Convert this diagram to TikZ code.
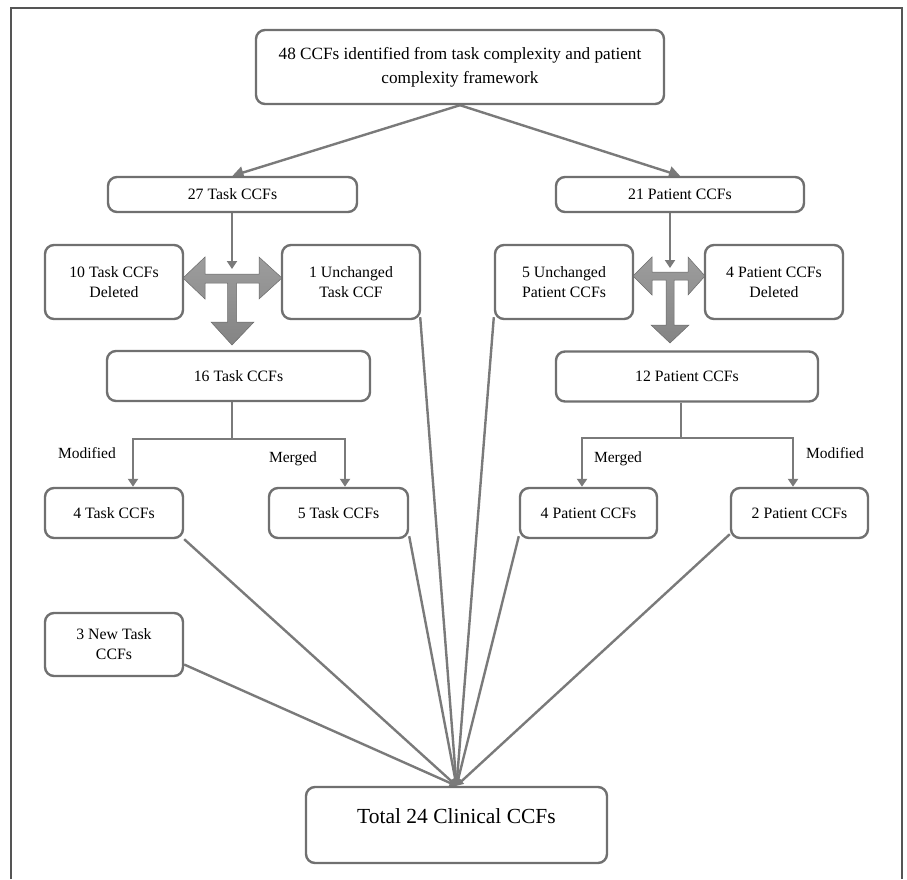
\documentclass[tikz,border=0pt]{standalone}
\usepackage{fontspec}
\setmainfont{Liberation Serif}
\usetikzlibrary{arrows.meta,calc}
\definecolor{boxgray}{RGB}{112,112,112}
\definecolor{linegray}{RGB}{122,122,122}
\definecolor{framegray}{RGB}{85,85,85}
\definecolor{bigarrow}{RGB}{132,132,132}
\pgfdeclarelayer{bg}
\pgfsetlayers{bg,main}
\tikzset{
  box/.style={draw=boxgray, line width=2.4pt, rounded corners=9pt, fill=white,
    align=center, inner sep=0pt, font=\fontsize{15.8}{20}\selectfont},
  conn/.style={draw=linegray, line width=2.4pt},
  arr/.style={conn, -{Triangle[length=8pt,width=10pt]}},
  bigarr/.style={conn, -{Triangle[length=11pt,width=12pt]}},
  cvg/.style={conn, -{Triangle[length=7pt,width=7pt]}},
  lbl/.style={font=\fontsize{15.5}{19}\selectfont, inner sep=0pt},
  blockarrow/.style={top color=bigarrow!80, bottom color=bigarrow, draw=bigarrow!80!black, line width=0.5pt, line join=miter}
}
\begin{document}
\begin{tikzpicture}[x=1pt,y=-1pt]
\useasboundingbox (0,0) rectangle (907,879);
\draw[framegray, line width=1.8pt] (11,879) -- (11,8) -- (902,8) -- (902,879);

% nodes
\node[box, minimum width=408, minimum height=74, font=\fontsize{17.2}{24}\selectfont] (top) at (460,67)
  {48 CCFs identified from task complexity and patient\\complexity framework};
\node[box, minimum width=249, minimum height=35] (t27) at (232.5,194.5) {27 Task CCFs};
\node[box, minimum width=248, minimum height=35] (p21) at (680,194.5) {21 Patient CCFs};
\node[box, minimum width=138, minimum height=74] (d10) at (114,282) {10 Task CCFs\\Deleted};
\node[box, minimum width=138, minimum height=74] (u1) at (351,282) {1 Unchanged\\Task CCF};
\node[box, minimum width=138, minimum height=74] (u5) at (564,282) {5 Unchanged\\Patient CCFs};
\node[box, minimum width=138, minimum height=74] (d4) at (774,282) {4 Patient CCFs\\Deleted};
\node[box, minimum width=263, minimum height=50] (t16) at (238.5,376) {16 Task CCFs};
\node[box, minimum width=262, minimum height=50] (p12) at (687,376.5) {12 Patient CCFs};
\node[box, minimum width=138, minimum height=50] (t4) at (114,513) {4 Task CCFs};
\node[box, minimum width=139, minimum height=50] (t5) at (338.5,513) {5 Task CCFs};
\node[box, minimum width=137, minimum height=50] (p4) at (588.5,513) {4 Patient CCFs};
\node[box, minimum width=137, minimum height=50] (p2) at (799.5,513) {2 Patient CCFs};
\node[box, minimum width=138, minimum height=63] (n3) at (114,644.5) {3 New Task\\CCFs};
\node[box, minimum width=301, minimum height=76, font=\fontsize{21.5}{26}\selectfont,
  text height=15pt, text depth=19pt] (tot) at (456.5,825) {Total 24 Clinical CCFs};

% labels
\node[lbl] (lm1) at (87,453) {Modified};
\node[lbl] (lg1) at (293,459) {Merged};
\node[lbl] (lg2) at (618,459) {Merged};
\node[lbl] (lm2) at (835,453) {Modified};

% branch coordinates
\coordinate (ta) at (232,269);
\coordinate (pa) at (670,268);
\coordinate (tb) at (232,439);
\coordinate (pb) at (681,438);

\begin{pgfonlayer}{bg}
% top split
\draw[bigarr] (top.south) -- (t27.north);
\draw[bigarr] (top.south) -- (p21.north);
% thin arrows
\draw[arr] (t27.south -| ta) -- (ta);
\draw[arr] (p21.south -| pa) -- (pa);
% branches task
\draw[conn] (t16.south -| tb) -- (tb);
\draw[arr] (tb) -| ($(t4.north)+(19,0)$);
\draw[arr] (tb) -| ($(t5.north)+(6.5,0)$);
% branches patient
\draw[conn] (p12.south -| pb) -- (pb);
\draw[arr] (pb) -| ($(p4.north)+(-6.5,0)$);
\draw[arr] (pb) -| ($(p2.north)+(-6.5,0)$);
% converging lines
\draw[cvg] (t4.south east) -- (tot.north);
\draw[cvg] ($(n3.east)+(0,20)$) -- (tot.north);
\draw[cvg] ($(u1.south east)+(-1,-3)$) -- (tot.north);
\draw[cvg] ($(t5.south east)+(0,-3)$) -- (tot.north);
\draw[cvg] ($(u5.south west)+(0,-3)$) -- (tot.north);
\draw[cvg] ($(p4.south west)+(0,-3)$) -- (tot.north);
\draw[cvg] ($(p2.south west)+(0,-5)$) -- (tot.north);
\end{pgfonlayer}

% block arrows (task)
\path[blockarrow] (183,278) -- (205,257) -- (205,274) -- (259,274) -- (259,257) -- (282,278)
  -- (259,299) -- (259,283) -- (236.5,283) -- (236.5,322) -- (254,322) -- (232,345)
  -- (211,322) -- (227.5,322) -- (227.5,283) -- (205,283) -- (205,299) -- cycle;
% block arrows (patient)
\path[blockarrow] (633,276) -- (652,257) -- (652,272) -- (688,272) -- (688,257) -- (705,276)
  -- (688,295) -- (688,280) -- (674,280) -- (674,325) -- (689,325) -- (670,343)
  -- (651,325) -- (666,325) -- (666,280) -- (652,280) -- (652,295) -- cycle;
\end{tikzpicture}
\end{document}
